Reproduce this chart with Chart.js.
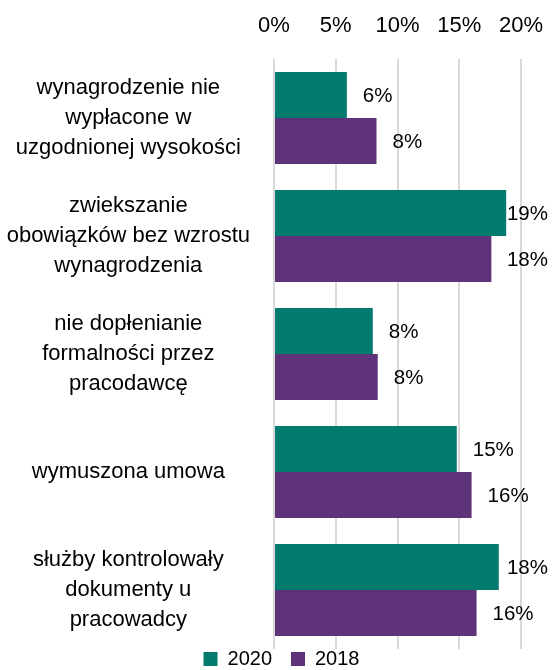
<!DOCTYPE html>
<html><head><meta charset="utf-8">
<script src="https://cdn.jsdelivr.net/npm/chart.js@4.4.1/dist/chart.umd.min.js"></script>
<style>html,body{margin:0;padding:0;background:#fff}#wrap{width:552px;height:670px;position:relative}</style>
</head><body><div id="wrap"><canvas id="c"></canvas></div>
<script>
const categories = [
  ["wynagrodzenie nie", "wypłacone w", "uzgodnionej wysokości"],
  ["zwiekszanie", "obowiązków bez wzrostu", "wynagrodzenia"],
  ["nie dopłenianie", "formalności przez", "pracodawcę"],
  "wymuszona umowa",
  ["służby kontrolowały", "dokumenty u", "pracowadcy"]
];
const seriesNames = ["2020", "2018"];
const values2020 = [5.9, 18.8, 8.0, 14.8, 18.2];
const values2018 = [8.3, 17.6, 8.4, 16.0, 16.4];
const xTicks = [0, 5, 10, 15, 20];

const FONT = "'Liberation Sans', Arial, sans-serif";

const dataLabels = {
  id: 'dataLabels',
  afterDatasetsDraw(chart) {
    const ctx = chart.ctx;
    ctx.save();
    ctx.font = "20.5px " + FONT;
    ctx.fillStyle = '#000';
    ctx.textAlign = 'left';
    ctx.textBaseline = 'middle';
    chart.data.datasets.forEach((ds, di) => {
      const meta = chart.getDatasetMeta(di);
      meta.data.forEach((bar, i) => {
        const txt = Math.round(ds.data[i]) + '%';
        const w = ctx.measureText(txt).width;
        let x = bar.x + 16;
        const maxX = chart.width - 4 - w;
        if (x > maxX) x = maxX;
        ctx.fillText(txt, x, bar.y + 1);
      });
    });
    ctx.restore();
  }
};

const legendShift = {
  id: 'legendShift',
  beforeLayout(chart) {
    const lg = chart.legend;
    if (lg && !lg._patched) {
      const f = lg.fit.bind(lg);
      lg.fit = function () { f(); this.height = 21; };
      lg._patched = true;
    }
  },
  afterLayout(chart) {
    const lg = chart.legend;
    if (lg) { lg.left += 21; lg.right += 21; lg.top = 630; }
  }
};

new Chart(document.getElementById('c'), {
  type: 'bar',
  data: {
    labels: categories,
    datasets: [
      { label: seriesNames[0], data: values2020, backgroundColor: '#027A6E' },
      { label: seriesNames[1], data: values2018, backgroundColor: '#5E3379' }
    ]
  },
  options: {
    indexAxis: 'y',
    responsive: true,
    maintainAspectRatio: false,
    animation: false,
    devicePixelRatio: 1,
    datasets: { bar: { categoryPercentage: 0.78, barPercentage: 1.0 } },
    layout: { padding: { top: 12, right: 31, bottom: 0, left: 0 } },
    scales: {
      x: {
        position: 'top',
        min: 0, max: 20,
        afterBuildTicks: s => { s.ticks = xTicks.map(v => ({ value: v })); },
        ticks: { callback: v => v + '%', font: { family: FONT, size: 22 }, color: '#000', padding: 20 },
        grid: { color: '#d9d9d9', lineWidth: 2, drawTicks: false },
        border: { display: false },
        afterFit: s => { s.paddingLeft = 0; s.paddingRight = 0; s.height = 47; }
      },
      y: {
        grid: { display: false, drawTicks: false },
        border: { display: false },
        ticks: { font: { family: FONT, size: 22, lineHeight: 30 / 22 }, color: '#000', crossAlign: 'center', padding: 24 },
        afterFit: s => { s.width = 274; s.paddingTop = 0; s.paddingBottom = 0; }
      }
    },
    plugins: {
      legend: {
        position: 'bottom',
        labels: { boxWidth: 14, boxHeight: 14, font: { family: FONT, size: 20 }, color: '#000', padding: 19 }
      },
      tooltip: { enabled: false }
    }
  },
  plugins: [dataLabels, legendShift]
});
</script>
</body></html>
